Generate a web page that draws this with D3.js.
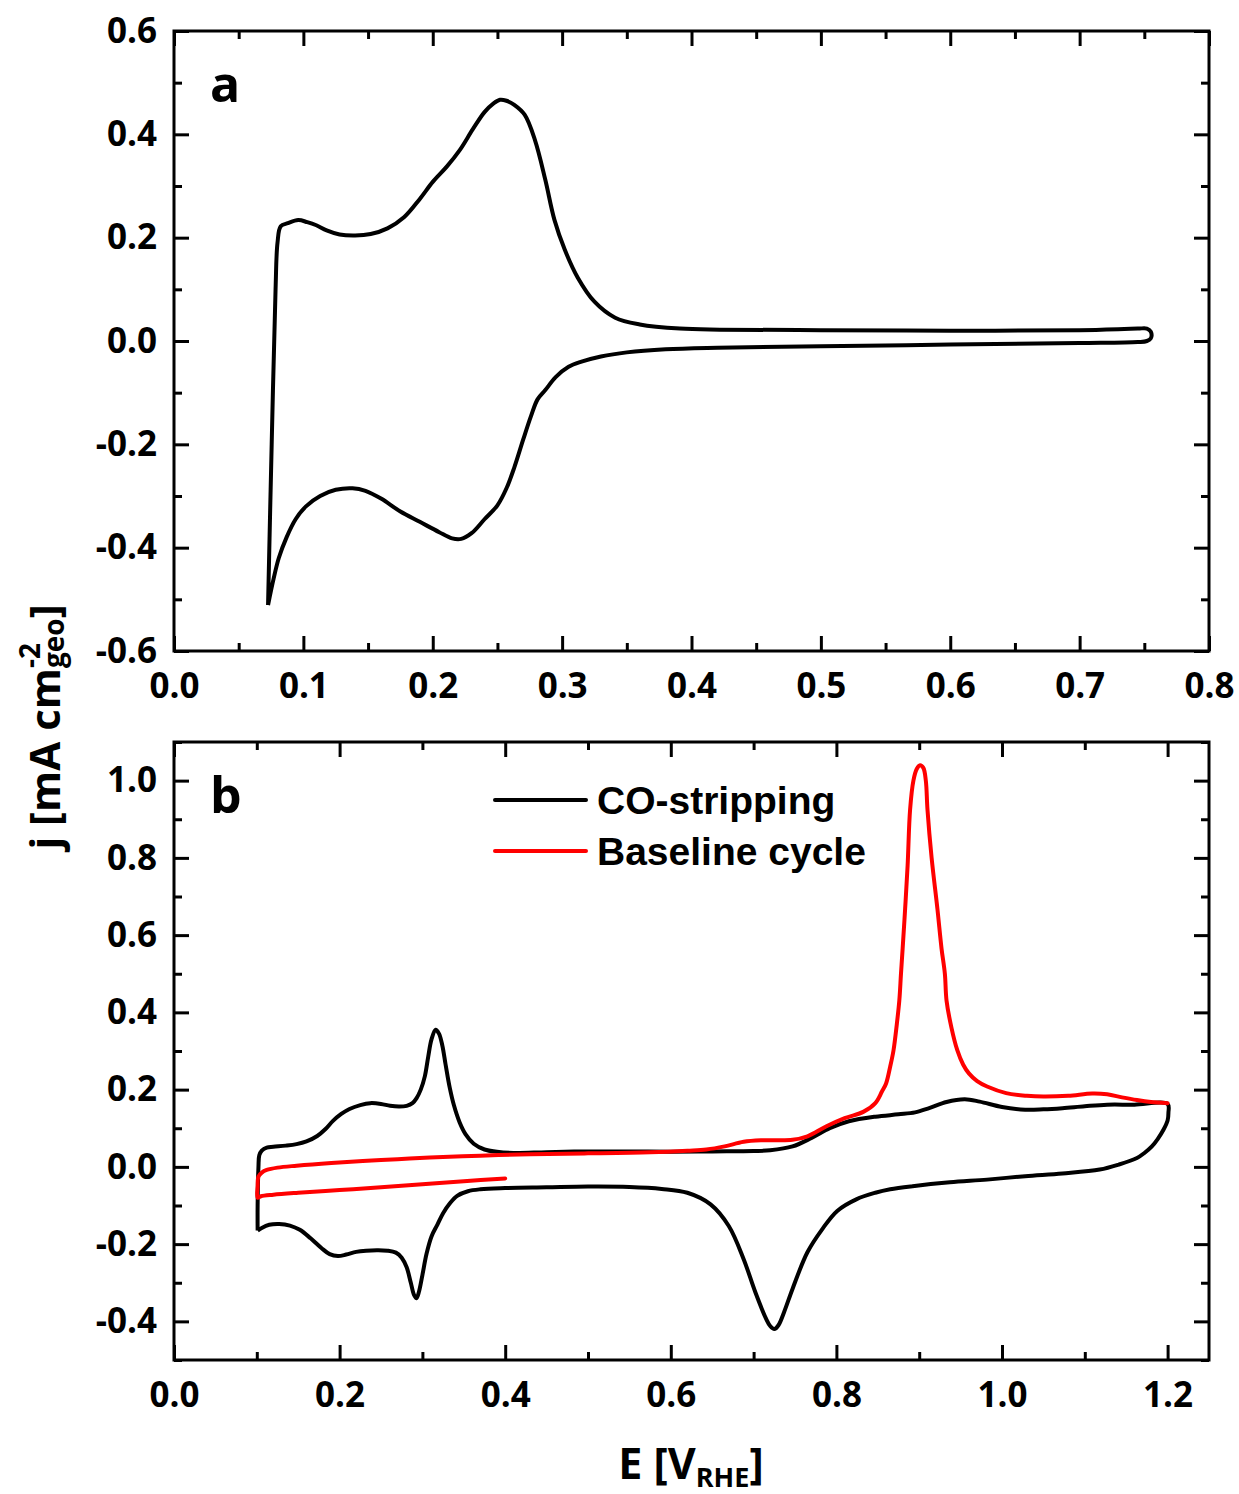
<!DOCTYPE html>
<html>
<head>
<meta charset="utf-8">
<script src="https://cdn.jsdelivr.net/npm/d3@7"></script>
<style>
  html, body { margin: 0; padding: 0; background: #fff; }
  svg { display: block; }
</style>
</head>
<body>
<svg id="chart" width="1239" height="1494"></svg>
<script>
// ---------------- DATA ----------------
// Panel a: CV (E [V_RHE], j [mA cm^-2])
const cvA = [
  [0.0727,-0.511],[0.0755,-0.20],[0.0785,0.10],[0.0800,0.190],[0.0825,0.222],[0.088,0.228],
  [0.096,0.234],[0.103,0.230],[0.110,0.224],[0.118,0.214],[0.128,0.206],[0.140,0.204],
  [0.152,0.207],[0.165,0.218],[0.178,0.240],[0.190,0.275],[0.200,0.308],[0.211,0.338],
  [0.221,0.370],[0.231,0.410],[0.240,0.443],[0.247,0.460],[0.252,0.467],[0.257,0.465],
  [0.263,0.457],[0.271,0.438],[0.279,0.389],[0.287,0.312],[0.294,0.235],[0.302,0.177],
  [0.312,0.123],[0.325,0.076],[0.341,0.045],[0.360,0.032],[0.391,0.024],[0.422,0.022],
  [0.50,0.021],[0.60,0.020],[0.70,0.021],[0.745,0.024],[0.752,0.024],[0.755,0.018],
  [0.755,0.005],[0.752,0.000],[0.745,-0.002],[0.70,-0.004],[0.60,-0.007],[0.50,-0.010],
  [0.42,-0.013],[0.38,-0.016],[0.35,-0.022],[0.33,-0.030],[0.315,-0.040],[0.305,-0.050],
  [0.295,-0.070],[0.287,-0.095],[0.281,-0.113],[0.276,-0.145],[0.270,-0.190],[0.263,-0.245],
  [0.257,-0.285],[0.250,-0.318],[0.240,-0.345],[0.230,-0.372],[0.222,-0.383],[0.215,-0.382],
  [0.205,-0.370],[0.190,-0.350],[0.175,-0.330],[0.160,-0.305],[0.148,-0.290],[0.138,-0.285],
  [0.125,-0.288],[0.113,-0.300],[0.102,-0.320],[0.094,-0.345],[0.087,-0.380],[0.081,-0.420],
  [0.077,-0.460],[0.0727,-0.511]
];

// Panel b: CO-stripping (black)
const coStripping = [
  [0.101,-0.165],[0.101,-0.10],[0.102,0.0],[0.103,0.030],[0.106,0.042],[0.112,0.050],
  [0.120,0.052],[0.135,0.055],[0.148,0.059],[0.160,0.066],[0.173,0.080],[0.183,0.098],
  [0.192,0.119],[0.202,0.137],[0.212,0.150],[0.225,0.160],[0.237,0.165],[0.250,0.163],
  [0.261,0.158],[0.272,0.156],[0.281,0.158],[0.288,0.165],[0.293,0.178],[0.298,0.200],
  [0.303,0.235],[0.307,0.285],[0.311,0.330],[0.316,0.355],[0.320,0.345],[0.324,0.315],
  [0.328,0.265],[0.333,0.205],[0.338,0.160],[0.345,0.115],[0.352,0.085],[0.362,0.060],
  [0.375,0.045],[0.390,0.039],[0.41,0.036],[0.45,0.038],[0.50,0.040],[0.55,0.040],
  [0.60,0.039],[0.65,0.040],[0.70,0.041],[0.72,0.043],[0.747,0.053],[0.770,0.075],
  [0.792,0.100],[0.815,0.118],[0.847,0.130],[0.875,0.136],[0.895,0.141],[0.912,0.152],
  [0.933,0.168],[0.955,0.175],[0.973,0.169],[1.000,0.155],[1.028,0.148],[1.050,0.149],
  [1.073,0.152],[1.100,0.157],[1.127,0.161],[1.160,0.161],[1.200,0.163],
  [1.201,0.140],[1.200,0.120],[1.195,0.096],[1.188,0.072],[1.181,0.053],[1.172,0.036],
  [1.163,0.023],[1.141,0.006],[1.118,-0.007],[1.073,-0.017],[1.028,-0.024],[0.982,-0.033],
  [0.937,-0.040],[0.892,-0.050],[0.865,-0.058],[0.847,-0.067],[0.824,-0.084],[0.801,-0.114],
  [0.783,-0.161],[0.765,-0.221],[0.747,-0.316],[0.737,-0.375],[0.730,-0.410],[0.725,-0.420],
  [0.720,-0.412],[0.715,-0.393],[0.702,-0.324],[0.688,-0.239],[0.670,-0.153],[0.648,-0.097],
  [0.620,-0.067],[0.589,-0.057],[0.55,-0.052],[0.50,-0.051],[0.45,-0.053],[0.40,-0.055],
  [0.37,-0.058],[0.355,-0.063],[0.342,-0.075],[0.333,-0.095],[0.325,-0.120],[0.318,-0.150],
  [0.311,-0.180],[0.305,-0.225],[0.300,-0.280],[0.296,-0.322],[0.293,-0.340],[0.290,-0.332],
  [0.286,-0.300],[0.281,-0.260],[0.275,-0.235],[0.268,-0.222],[0.258,-0.217],[0.245,-0.216],
  [0.232,-0.217],[0.220,-0.220],[0.208,-0.227],[0.198,-0.231],[0.188,-0.226],[0.178,-0.210],
  [0.165,-0.185],[0.152,-0.163],[0.140,-0.152],[0.127,-0.148],[0.115,-0.150],[0.106,-0.158],
  [0.101,-0.165]
];

// Panel b: Baseline cycle (red)
const baselineCycle = [
  [0.400,-0.030],[0.35,-0.037],[0.30,-0.045],[0.25,-0.053],[0.20,-0.060],[0.15,-0.067],
  [0.12,-0.072],[0.105,-0.076],[0.101,-0.080],[0.101,-0.050],[0.102,-0.025],[0.106,-0.015],
  [0.112,-0.008],[0.125,-0.002],[0.148,0.003],[0.19,0.010],[0.228,0.015],[0.27,0.020],
  [0.309,0.024],[0.37,0.029],[0.43,0.033],[0.50,0.035],[0.575,0.038],[0.62,0.042],
  [0.643,0.045],[0.665,0.053],[0.688,0.065],[0.711,0.069],[0.747,0.070],[0.765,0.079],
  [0.788,0.105],[0.810,0.126],[0.833,0.143],[0.847,0.165],[0.855,0.195],[0.860,0.216],
  [0.865,0.260],[0.869,0.302],[0.873,0.370],[0.876,0.431],[0.878,0.500],[0.880,0.565],
  [0.883,0.668],[0.886,0.780],[0.889,0.925],[0.893,1.000],[0.897,1.030],[0.901,1.040],
  [0.905,1.033],[0.908,1.000],[0.910,0.925],[0.915,0.800],[0.922,0.668],[0.927,0.565],
  [0.931,0.500],[0.933,0.431],[0.939,0.360],[0.946,0.302],[0.953,0.265],[0.960,0.242],
  [0.970,0.222],[0.982,0.208],[1.005,0.191],[1.030,0.184],[1.050,0.182],[1.080,0.184],
  [1.109,0.190],[1.127,0.188],[1.145,0.180],[1.163,0.173],[1.180,0.168],[1.200,0.165]
];

const seriesNames = ["CO-stripping", "Baseline cycle"];
const seriesColors = ["#000000", "#ff0000"];
const panelLabels = ["a", "b"];

// Tick values
const aXMajor = [0.0, 0.1, 0.2, 0.3, 0.4, 0.5, 0.6, 0.7, 0.8];
const aXMinor = [0.05, 0.15, 0.25, 0.35, 0.45, 0.55, 0.65, 0.75];
const aYMajor = [-0.6, -0.4, -0.2, 0.0, 0.2, 0.4, 0.6];
const aYMinor = [-0.5, -0.3, -0.1, 0.1, 0.3, 0.5];
const bXMajor = [0.0, 0.2, 0.4, 0.6, 0.8, 1.0, 1.2];
const bXMinor = [0.1, 0.3, 0.5, 0.7, 0.9, 1.1];
const bYMajor = [-0.4, -0.2, 0.0, 0.2, 0.4, 0.6, 0.8, 1.0];
const bYMinor = [-0.5, -0.3, -0.1, 0.1, 0.3, 0.5, 0.7, 0.9, 1.1];

const xTitle = { main: "E [V", sub: "RHE", end: "]" };
const yTitle = { main: "j [mA cm", sup: "-2", sub: "geo", end: "]" };

// ---------------- DRAW ----------------
const svg = d3.select("#chart");
const FONT = "'Open Sans', 'DejaVu Sans', sans-serif";
const fmt = d => d.toFixed(1);

const boxA = { left: 174, right: 1209, top: 31, bottom: 651 };
const boxB = { left: 174, right: 1209, top: 742, bottom: 1360 };

const xA = d3.scaleLinear().domain([0, 0.8]).range([boxA.left, boxA.right]);
const yA = d3.scaleLinear().domain([-0.6, 0.6]).range([boxA.bottom, boxA.top]);
const xB = d3.scaleLinear().domain([0, 1.25]).range([boxB.left, boxB.right]);
const yB = d3.scaleLinear().domain([-0.5, 1.1]).range([boxB.bottom, boxB.top]);

function drawAxes(box, x, y, xMaj, xMin, yMaj, yMin) {
  const g = svg.append("g");
  const MAJ = 15, MIN = 8;
  const styleAxis = sel => {
    sel.select(".domain").remove();
    sel.selectAll(".tick line").attr("stroke", "#000").attr("stroke-width", 3);
    sel.selectAll(".tick text").attr("fill", "#000")
      .style("font-family", FONT).style("font-size", "35px").style("font-weight", "700");
  };
  g.append("g").attr("transform", `translate(0,${box.bottom})`)
    .call(d3.axisBottom(x).tickValues(xMaj).tickSize(-MAJ).tickPadding(22).tickFormat(fmt)).call(styleAxis);
  g.append("g").attr("transform", `translate(0,${box.bottom})`)
    .call(d3.axisBottom(x).tickValues(xMin).tickSize(-MIN).tickFormat("")).call(styleAxis);
  g.append("g").attr("transform", `translate(0,${box.top})`)
    .call(d3.axisTop(x).tickValues(xMaj).tickSize(-MAJ).tickFormat("")).call(styleAxis);
  g.append("g").attr("transform", `translate(0,${box.top})`)
    .call(d3.axisTop(x).tickValues(xMin).tickSize(-MIN).tickFormat("")).call(styleAxis);
  g.append("g").attr("transform", `translate(${box.left},0)`)
    .call(d3.axisLeft(y).tickValues(yMaj).tickSize(-MAJ).tickPadding(17).tickFormat(fmt)).call(styleAxis);
  g.append("g").attr("transform", `translate(${box.left},0)`)
    .call(d3.axisLeft(y).tickValues(yMin).tickSize(-MIN).tickFormat("")).call(styleAxis);
  g.append("g").attr("transform", `translate(${box.right},0)`)
    .call(d3.axisRight(y).tickValues(yMaj).tickSize(-MAJ).tickFormat("")).call(styleAxis);
  g.append("g").attr("transform", `translate(${box.right},0)`)
    .call(d3.axisRight(y).tickValues(yMin).tickSize(-MIN).tickFormat("")).call(styleAxis);
  g.append("rect").attr("x", box.left).attr("y", box.top)
    .attr("width", box.right - box.left).attr("height", box.bottom - box.top)
    .attr("fill", "none").attr("stroke", "#000").attr("stroke-width", 3);
}

drawAxes(boxA, xA, yA, aXMajor, aXMinor, aYMajor, aYMinor);
drawAxes(boxB, xB, yB, bXMajor, bXMinor, bYMajor, bYMinor);

const curve = d3.curveCatmullRom.alpha(0.5);
const lineA = d3.line().x(d => xA(d[0])).y(d => yA(d[1])).curve(curve);
const lineB = d3.line().x(d => xB(d[0])).y(d => yB(d[1])).curve(curve);

svg.append("path").datum(cvA).attr("d", lineA)
  .attr("fill", "none").attr("stroke", "#000").attr("stroke-width", 4).attr("stroke-linejoin", "round");

svg.append("path").datum(coStripping).attr("d", lineB)
  .attr("fill", "none").attr("stroke", seriesColors[0]).attr("stroke-width", 4).attr("stroke-linejoin", "round");
svg.append("path").datum(baselineCycle).attr("d", lineB)
  .attr("fill", "none").attr("stroke", seriesColors[1]).attr("stroke-width", 4).attr("stroke-linejoin", "round")
  .attr("stroke-linecap", "round");

// Panel labels
svg.append("text").attr("x", 210).attr("y", 102).text(panelLabels[0])
  .style("font-family", FONT).style("font-size", "50px").style("font-weight", "700");
svg.append("text").attr("x", 210).attr("y", 813).text(panelLabels[1])
  .style("font-family", FONT).style("font-size", "50px").style("font-weight", "700");

// Legend
const legY = [800, 851];
seriesNames.forEach((name, i) => {
  svg.append("line").attr("x1", 495).attr("x2", 586).attr("y1", legY[i]).attr("y2", legY[i])
    .attr("stroke", seriesColors[i]).attr("stroke-width", 4).attr("stroke-linecap", "round");
  svg.append("text").attr("x", 597).attr("y", legY[i] + 14).text(name)
    .style("font-family", "'Liberation Sans', Arial, sans-serif").style("font-size", "39px")
    .style("font-weight", "700");
});

// X axis title
const xt = svg.append("text").attr("x", 691).attr("y", 1479).attr("text-anchor", "middle")
  .style("font-family", FONT).style("font-size", "43px").style("font-weight", "700");
xt.append("tspan").text(xTitle.main);
xt.append("tspan").text(xTitle.sub).style("font-size", "27px").attr("dy", 8);
xt.append("tspan").text(xTitle.end).attr("dy", -8);

// Y axis title
const yt = svg.append("text").attr("transform", "translate(60,727) rotate(-90)")
  .attr("text-anchor", "middle")
  .style("font-family", FONT).style("font-size", "42px").style("font-weight", "700");
yt.append("tspan").text(yTitle.main);
const supT = yt.append("tspan").text(yTitle.sup).style("font-size", "28px").attr("dy", -20);
const supW = supT.node().getComputedTextLength();
yt.append("tspan").text(yTitle.sub).style("font-size", "28px").attr("dx", -supW).attr("dy", 24);
yt.append("tspan").text(yTitle.end).attr("dy", -4);
</script>
</body>
</html>
